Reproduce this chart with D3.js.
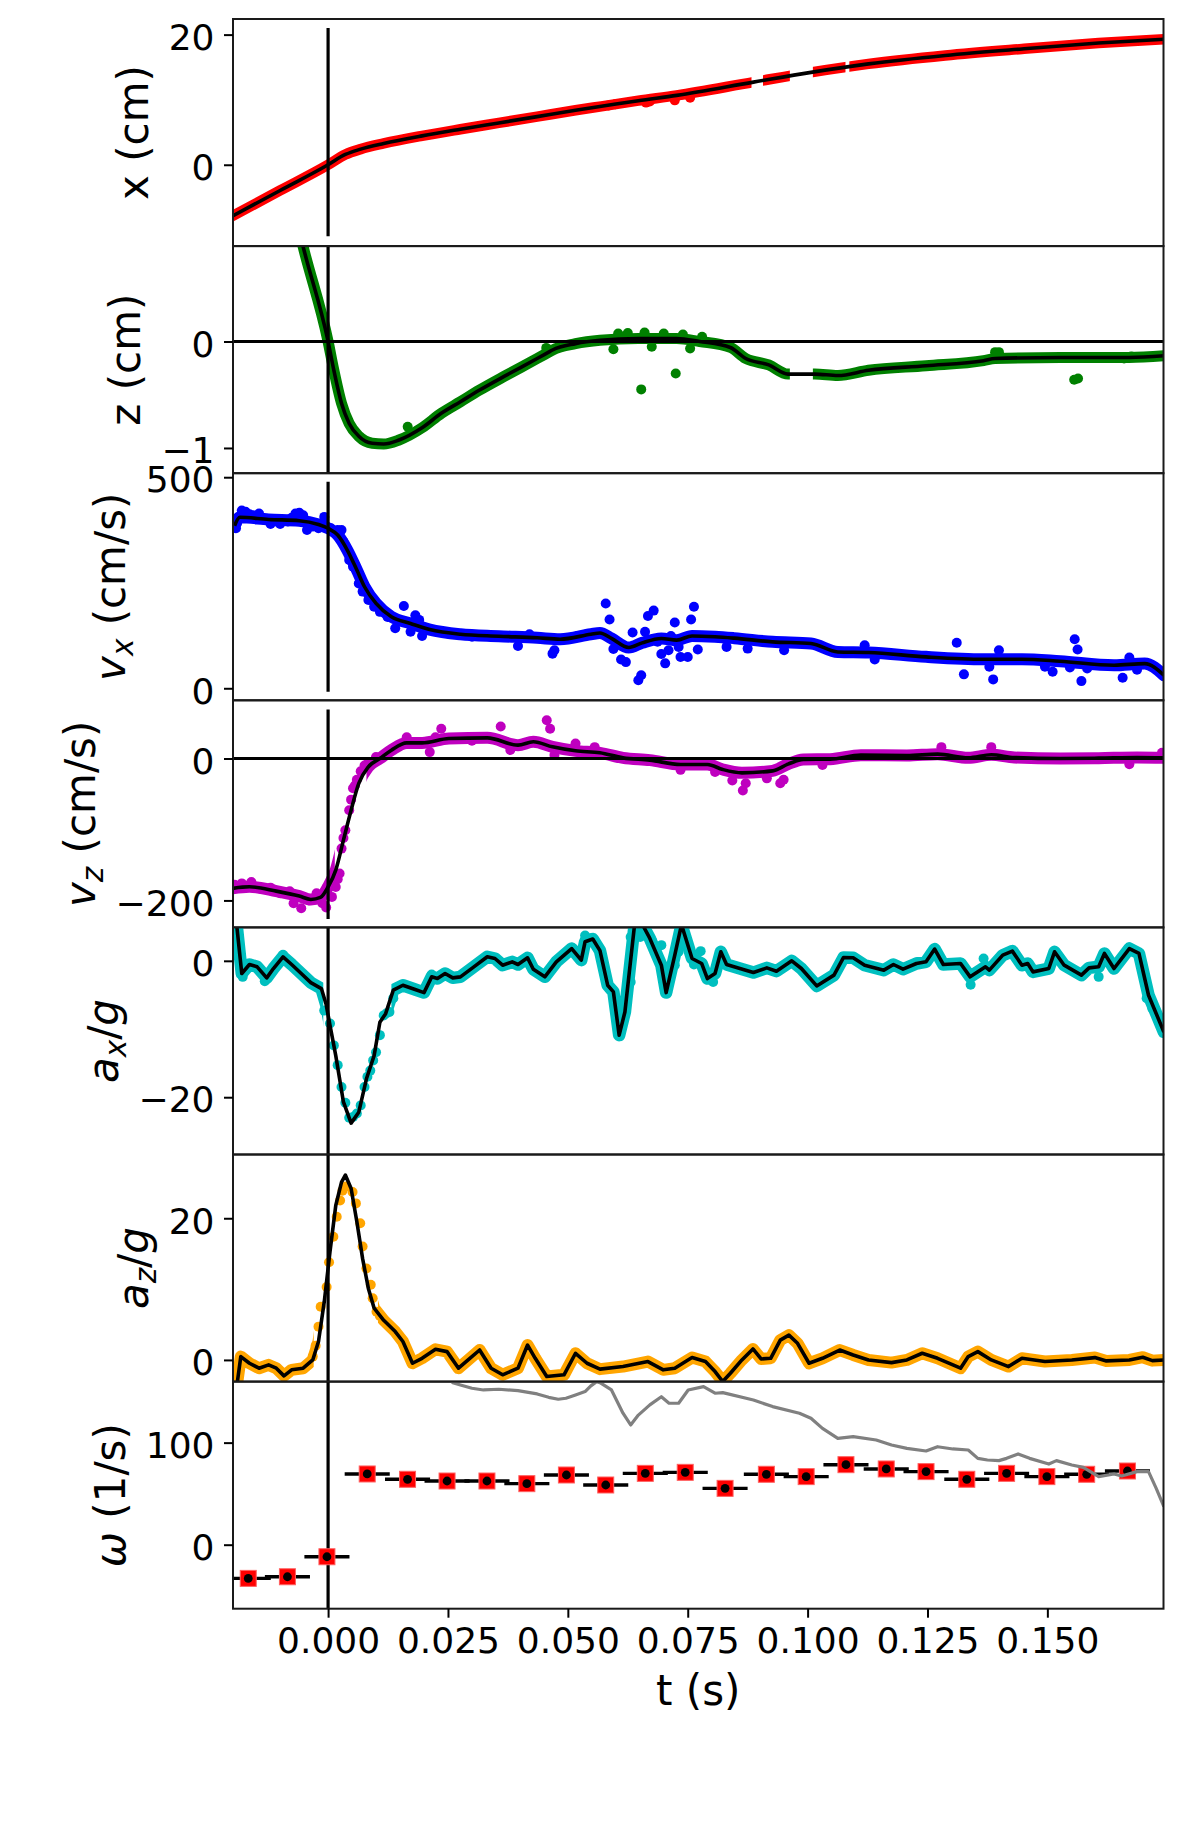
<!DOCTYPE html>
<html>
<head>
<meta charset="utf-8">
<script src="https://cdn.jsdelivr.net/npm/d3@7"></script>
<style>
  body { margin: 0; background: #fff; }
  text { font-family: "DejaVu Sans", sans-serif; white-space: pre; }
</style>
</head>
<body>
<svg id="chart" width="1196" height="1837"></svg>
<script>
// ---- data ----
const tLimits = [-0.01983, 0.17422];
const tTicks = [0, 0.025, 0.05, 0.075, 0.1, 0.125, 0.15];

// x (cm)
const xFit = [[-0.0199,-7.86],[-0.010,-3.95],[0,0],[0.0036,1.58],[0.0068,2.4],[0.0116,3.27],[0.0196,4.44],
  [0.0276,5.46],[0.0356,6.43],[0.0436,7.4],[0.0516,8.37],[0.0570,8.98],[0.0647,9.85],[0.0727,10.66],[0.0887,12.7],
  [0.1007,14.2],[0.1127,15.5],[0.1287,16.8],[0.1447,17.8],[0.1607,18.7],[0.1743,19.3]];
const xDots = [[0.0585,9.1],[0.0599,9.3],[0.0663,9.55],[0.0671,9.74],[0.0723,9.9],[0.0755,10.3]];
const xGaps = [[0.0883,0.0907],[0.0963,0.1011],[0.1079,0.1087]];

// z (cm)
const zFit = [[-0.0065,1.13],[-0.0052,0.89],[0,0],[0.0012,-0.27],[0.0028,-0.58],[0.0044,-0.77],[0.0064,-0.89],
  [0.0092,-0.956],[0.0116,-0.963],[0.0148,-0.925],[0.0196,-0.81],[0.0236,-0.675],[0.0276,-0.566],[0.0316,-0.456],
  [0.0372,-0.316],[0.0436,-0.16],[0.0460,-0.10],[0.0468,-0.08],[0.0516,-0.02],[0.0567,0.012],[0.0647,0.028],
  [0.0727,0.028],[0.0775,0.0],[0.0839,-0.056],[0.0871,-0.16],[0.0919,-0.22],[0.0959,-0.306],[0.1015,-0.306],
  [0.1063,-0.32],[0.1127,-0.27],[0.1247,-0.228],[0.1367,-0.18],[0.1391,-0.16],[0.1527,-0.15],[0.1671,-0.15],[0.1743,-0.134]];
const zDots = [[0.0166,-0.80],[0.0455,-0.06],[0.0595,-0.072],[0.0605,0.075],[0.0625,0.08],[0.0653,-0.45],
  [0.0660,0.085],[0.0675,-0.05],[0.0700,0.075],[0.0725,-0.30],[0.0740,0.065],[0.0755,-0.066],[0.0780,0.045],
  [0.1391,-0.10],[0.1399,-0.10],[0.1556,-0.36],[0.1564,-0.347],[0.1660,-0.16],[0.1675,-0.14]];
const zGaps = [[0.0963,0.1011]];

// v_x (cm/s)
const vxFit = [[-0.0195,385],[-0.0184,405],[-0.0124,400],[-0.006,397],[-0.002,388],[0,379],[0.002,363],
  [0.004,327.5],[0.006,280],[0.0076,240.5],[0.010,201],[0.0132,169.3],[0.0172,153.5],[0.0212,139],[0.0276,128],
  [0.0356,123.4],[0.0436,119.5],[0.0484,116.3],[0.0548,128],[0.0567,131],[0.0591,118],[0.0627,96.5],
  [0.0655,107.6],[0.0695,118],[0.0727,114],[0.0759,124],[0.0807,122],[0.0847,118.7],[0.0927,110],[0.1007,106],
  [0.1063,86],[0.1127,84.7],[0.1247,74.4],[0.1367,68.8],[0.1447,68.8],[0.1527,64],[0.1639,54.6],[0.1703,58.5],[0.1743,30.9]];
const vxDots = [[-0.0192,379],[-0.0190,391],[-0.0180,421],[-0.0172,418],[-0.0164,412],[-0.0156,410],
  [-0.0144,414],[-0.0132,399],[-0.0120,389],[-0.0108,395],[-0.0100,389],[-0.0084,395],[-0.0076,404],
  [-0.0068,414],[-0.0060,416],[-0.0052,410],[-0.0044,375],[-0.0032,383],[-0.0020,379],[-0.0008,406],
  [0.0006,379],[0.0020,375],[0.0028,375],[0.0032,347],[0.0044,304],[0.0052,288],[0.0064,248],[0.0072,229],
  [0.0084,209],[0.0096,193],[0.0108,181],[0.0124,169],[0.0140,142],[0.0158,195],[0.0172,134],[0.0182,173],
  [0.0190,162],[0.0196,124],[0.0250,130],[0.0300,122],[0.0396,100],[0.0420,128],[0.0468,82],[0.0472,90],
  [0.0520,124],[0.0579,201],[0.0587,163],[0.0595,93],[0.0611,68],[0.0621,62],[0.0635,132],[0.0647,19],
  [0.0653,31],[0.0661,134],[0.0667,171],[0.0679,184],[0.0687,110],[0.0695,81],[0.0703,59],[0.0710,90],
  [0.0715,124],[0.0723,156],[0.0731,98],[0.0735,74],[0.0750,74],[0.0757,163],[0.0763,193],[0.0771,92],
  [0.0831,98],[0.0875,94],[0.0951,90],[0.1119,102],[0.1140,68],[0.1311,108],[0.1326,33],[0.1379,51],
  [0.1387,21],[0.1399,90],[0.1495,51],[0.1511,39],[0.1547,49],[0.1557,116],[0.1563,92],[0.1571,17],
  [0.1583,47],[0.1657,25],[0.1671,73],[0.1687,44]];

// v_z (cm/s)
const vzFit = [[-0.0199,-183],[-0.0164,-180.8],[-0.0108,-186.9],[-0.006,-193.9],[-0.0036,-198.6],
  [-0.0016,-195.8],[0,-180.8],[0.0016,-157.3],[0.0032,-115],[0.0048,-72.8],[0.0064,-35.2],[0.0084,-11.7],
  [0.0108,0],[0.0132,11.7],[0.0164,22],[0.0196,22],[0.0252,28.2],[0.0332,29.1],[0.0396,18.8],[0.0428,23.5],
  [0.0468,16.4],[0.0516,10.8],[0.0567,8],[0.0615,0.9],[0.0671,-2.3],[0.0735,-8.5],[0.0791,-8.5],[0.0823,-15.5],
  [0.0863,-20.2],[0.0927,-17.4],[0.0959,-8],[0.0991,-1.4],[0.1047,-0.9],[0.1111,4.7],[0.1207,4.2],[0.1271,6.1],
  [0.1335,0.9],[0.1383,5.2],[0.1431,1.4],[0.1527,0],[0.1607,0.5],[0.1687,1.4],[0.1743,0.9]];
const vzDots = [[-0.0195,-178],[-0.0180,-176],[-0.0160,-174],[-0.0140,-184],[-0.0120,-182],[-0.0100,-190],
  [-0.0080,-187],[-0.0072,-204],[-0.0056,-211],[-0.0040,-200],[-0.0024,-190],[-0.0012,-204],[-0.0004,-210],
  [0.0008,-195],[0.0016,-181],[0.0020,-170],[0.0024,-162],[0.0028,-127],[0.0032,-112],[0.0036,-101],
  [0.0044,-73],[0.0048,-58],[0.0052,-42],[0.0056,-38],[0.0060,-30],[0.0068,-18],[0.0076,-10],
  [0.0084,-5],[0.0100,2],[0.0164,30],[0.0212,9],[0.0224,30],[0.0236,42],[0.0300,25],[0.0360,45],[0.0380,12],
  [0.0456,54],[0.0463,42],[0.0472,5],[0.0516,21],[0.0556,16],[0.0735,-16],[0.0807,-19],[0.0843,-31],
  [0.0865,-45],[0.0871,-35],[0.0915,-28],[0.0943,-35],[0.0950,-30],[0.1031,-9],[0.1279,16],[0.1383,16],
  [0.1671,-8],[0.1739,8]];
const vzGaps = [[0.0014, 0.0080]];

// a_x / g
const axFit = [[-0.0191,5.5],[-0.0180,-1.86],[-0.0164,-0.54],[-0.0148,-0.88],[-0.0128,-2.5],[-0.0114,-1.13],
  [-0.0094,0.59],[-0.0076,-0.54],[-0.0056,-1.86],[-0.0036,-3.19],[-0.0014,-4.07],[-0.0004,-6.42],[0.0004,-9.46],
  [0.0016,-13.9],[0.0032,-20.7],[0.0048,-23.8],[0.0064,-22.2],[0.0080,-17.3],[0.0096,-13.9],[0.0108,-9.0],
  [0.0120,-7.75],[0.0136,-4.3],[0.0156,-3.58],[0.0180,-4.17],[0.0200,-4.66],[0.0216,-2.35],[0.0228,-2.6],
  [0.0244,-1.86],[0.0260,-2.5],[0.0276,-2.35],[0.0304,-0.88],[0.0332,0.59],[0.0348,0.34],[0.0364,-0.64],
  [0.0384,-0.15],[0.0396,-0.54],[0.0416,0.44],[0.0428,-1.23],[0.0452,-2.35],[0.0476,-0.15],[0.0508,1.8],
  [0.0528,0.1],[0.0536,2.8],[0.0552,3.2],[0.0567,1.5],[0.0583,-3.58],[0.0595,-4.56],[0.0607,-10.9],
  [0.0619,-7.5],[0.0639,5.2],[0.0655,5.4],[0.0671,3.28],[0.0695,-0.64],[0.0705,-4.66],[0.0723,0.83],
  [0.0737,5.3],[0.0759,0.34],[0.0779,-0.39],[0.0791,-2.6],[0.0807,-1.86],[0.0819,1.32],[0.0831,-0.54],
  [0.0871,-1.37],[0.0887,-1.72],[0.0915,-1.03],[0.0935,-1.52],[0.0967,0],[0.0987,-1.13],[0.1019,-3.68],
  [0.1055,-2.1],[0.1075,0.49],[0.1095,0.44],[0.1119,-0.64],[0.1159,-1.37],[0.1179,-0.54],[0.1199,-1.23],
  [0.1227,-0.39],[0.1247,-0.15],[0.1265,1.72],[0.1283,-0.54],[0.1319,-0.39],[0.1339,-2.35],[0.1371,-0.88],
  [0.1379,-1.37],[0.1407,0.83],[0.1427,1.42],[0.1447,-0.64],[0.1459,-0.39],[0.1470,-1.62],[0.1503,-1.13],
  [0.1515,1.32],[0.1535,-0.64],[0.1571,-2.1],[0.1587,-1.03],[0.1607,-0.88],[0.1619,1.08],[0.1639,-1.13],
  [0.1671,1.8],[0.1691,1.08],[0.1711,-5.05],[0.1743,-10.44]];
const axDots = [[-0.0178,-2.35],[-0.0132,-3.0],[-0.0094,0.9],[-0.0008,-7.3],[0.0004,-9.2],[0.0012,-12.4],
  [0.0020,-15.3],[0.0028,-18.5],[0.0036,-20.8],[0.0044,-23.0],[0.0052,-22.9],[0.0060,-22.4],[0.0068,-21.2],
  [0.0076,-18.5],[0.0082,-17.0],[0.0088,-16.1],[0.0094,-14.6],[0.0100,-13.4],[0.0108,-10.9],[0.0116,-8.0],
  [0.0122,-7.7],[0.0128,-7.5],[0.0136,-5.5],[0.0216,-2.0],[0.0536,3.7],
  [0.0603,-8.0],[0.0619,-6.1],[0.0631,-3.1],[0.0631,3.5],[0.0651,3.5],[0.0675,3.0],[0.0695,2.3],[0.0707,-4.66],
  [0.0711,-1.13],[0.0723,-0.64],[0.0731,1.32],[0.0763,-0.54],[0.0777,1.42],[0.0803,-3.1],[0.1340,-3.5],
  [0.1367,0.34],[0.1607,-2.35],[0.1707,-5.5],[0.1719,-7.0]];
const axGaps = [[-0.0010, 0.0132]];

// a_z / g
const azFit = [[-0.0190,-3.5],[-0.0182,0.47],[-0.0164,-0.47],[-0.0144,-1.17],[-0.0124,-0.7],[-0.0108,-1.17],
  [-0.0092,-2.25],[-0.0076,-1.4],[-0.0052,-1.17],[-0.0032,0],[-0.0020,2.6],[-0.0008,8.2],[0.0004,15.3],
  [0.0016,21.8],[0.0028,25.1],[0.0036,26.1],[0.0048,24.2],[0.0060,19.5],[0.0072,14.3],[0.0084,10.1],
  [0.0096,7.3],[0.0116,5.6],[0.0140,4.0],[0.0156,2.6],[0.0176,-0.47],[0.0196,0.23],[0.0224,1.5],[0.0248,1.17],
  [0.0272,-1.17],[0.0292,0],[0.0316,1.4],[0.0340,-1.17],[0.0364,-2.1],[0.0396,-1.17],[0.0416,2.1],[0.0432,0.23],
  [0.0456,-2.35],[0.0492,-2.1],[0.0516,0.94],[0.0540,-0.47],[0.0567,-1.3],[0.0615,-0.94],[0.0667,-0.23],
  [0.0699,-1.4],[0.0723,-1.17],[0.0759,0.33],[0.0787,-0.23],[0.0807,-1.64],[0.0823,-3.05],[0.0839,-1.88],
  [0.0863,0],[0.0886,1.55],[0.0903,0.14],[0.0923,0.23],[0.0943,2.8],[0.0961,3.5],[0.0979,2.35],[0.1003,-0.47],
  [0.1031,0.23],[0.1067,1.4],[0.1095,0.7],[0.1127,0],[0.1175,-0.38],[0.1207,0],[0.1239,0.94],[0.1271,0.23],
  [0.1319,-1.17],[0.1335,0.47],[0.1355,1.17],[0.1383,0],[0.1419,-0.94],[0.1447,0.23],[0.1495,-0.23],
  [0.1551,0],[0.1599,0.33],[0.1623,-0.14],[0.1671,0],[0.1699,0.38],[0.1719,-0.1],[0.1743,0]];
const azDots = [[-0.0189,-3.0],[-0.0032,0.47],[-0.0026,2.0],[-0.0020,4.7],[-0.00155,7.5],[-0.0003,10.3],
  [0.0002,13.8],[0.0011,17.4],[0.0018,20.2],[0.0025,22.5],[0.0030,23.9],[0.0037,24.5],[0.0051,23.7],
  [0.0058,22.1],[0.0067,19.3],[0.0072,16.0],[0.0080,12.9],[0.0089,10.6],[0.0093,8.7],[0.0101,6.8],
  [0.0108,6.2],[0.0460,-2.1],[0.0823,-3.0]];
const azGaps = [[-0.0030, 0.0104]];

// omega (1/s): binned values with time error bars, and a second estimate (grey line)
const omegaT = [-0.01665,-0.00848,-0.00024,0.00816,0.01657,0.02481,0.03313,0.04145,0.0497,0.0579,0.06615,
  0.07448,0.08279,0.0914,0.0997,0.108,0.1164,0.1247,0.1332,0.1415,0.1499,0.1582,0.1667];
const omegaV = [-33.0,-31.4,-11.8,69.3,64.1,62.4,62.4,59.8,68.3,58.5,69.9,70.9,55.2,69.0,66.7,78.4,74.2,
  71.6,64.1,69.9,66.7,69.0,72.2];
const omegaDt = 0.0047;
const omegaLine = [[0.0255,163],[0.026,158.8],[0.0276,156.5],[0.030,153.3],[0.0324,151.6],[0.0356,152.3],
  [0.0396,151],[0.0436,147.7],[0.046,144.4],[0.048,142.5],[0.0496,143.5],[0.0516,146.7],[0.0536,150],
  [0.0548,155.6],[0.0560,159.8],[0.0567,158.8],[0.0591,151.6],[0.0615,128.8],[0.0631,117.3],[0.0647,127],
  [0.0671,137],[0.0695,145],[0.0711,138.6],[0.0731,138.6],[0.0751,151.6],[0.0783,154.9],[0.0807,148.4],
  [0.0823,149],[0.0887,141.8],[0.0927,135.3],[0.0983,128.8],[0.1007,123.9],[0.1031,114],[0.1063,104.2],
  [0.1095,105.9],[0.1143,102.6],[0.1175,97.7],[0.1207,94.4],[0.1247,91.8],[0.1271,96],[0.1303,93.8],
  [0.1335,92.8],[0.1355,84.6],[0.1375,83],[0.1399,82.4],[0.1415,84.6],[0.1439,88.9],[0.1463,84.6],
  [0.1503,79],[0.1519,82.4],[0.1551,78.1],[0.1575,75.8],[0.1607,66.7],[0.1639,69.3],[0.1655,67.3],
  [0.1687,71.6],[0.1711,71.6],[0.1727,55.2],[0.1743,37.3]];

// ---- panel setup ----
const panels = [
  { label: [['x (cm)', 'n']], domain: [-12.5, 22.4], ticks: [0, 20], color: '#ff0000',
    fit: xFit, dots: xDots, gaps: xGaps, vline: [-11, 21], smooth: true, band: 10.5 },
  { label: [['z (cm)', 'n']], domain: [-1.237, 0.896], ticks: [-1, 0], color: '#008000',
    fit: zFit, dots: zDots, gaps: zGaps, hline: 0, smooth: true, band: 11 },
  { label: [['v', 'i'], ['x', 'sub'], [' (cm/s)', 'n']], domain: [-28.5, 509.5], ticks: [0, 500],
    color: '#0000ff', fit: vxFit, dots: vxDots, gaps: [], vline: [-8, 489], smooth: true, band: 12 },
  { label: [['v', 'i'], ['z', 'sub'], [' (cm/s)', 'n']], domain: [-238, 82], ticks: [-200, 0],
    color: '#bf00bf', fit: vzFit, dots: vzDots, gaps: vzGaps, vline: [-226, 69], hline: 0, smooth: true, band: 12 },
  { label: [['a', 'i'], ['x', 'sub'], ['/', 'n'], ['g', 'i']], domain: [-28.4, 4.9], ticks: [-20, 0],
    color: '#00bfbf', fit: axFit, dots: axDots, gaps: axGaps, band: 12.5 },
  { label: [['a', 'i'], ['z', 'sub'], ['/', 'n'], ['g', 'i']], domain: [-3.06, 29.0], ticks: [0, 20],
    color: '#ffa500', fit: azFit, dots: azDots, gaps: azGaps, band: 12 },
  { label: [['ω', 'i'], [' (1/s)', 'n']], domain: [-62.7, 159.8], ticks: [0, 100], omega: true }
];

const L = 233, R = 1163.5, plotTop = 19, panelH = 227.1;
const tickFont = 36, labelFont = 42;

const svg = d3.select('#chart');
const defs = svg.append('defs');

const x = d3.scaleLinear().domain(tLimits).range([L, R]);

panels.forEach((p, i) => {
  const top = plotTop + i * panelH;
  const bottom = top + panelH;
  const y = d3.scaleLinear().domain(p.domain).range([bottom, top]);
  const line = d3.line().x(d => x(d[0])).y(d => y(d[1]));
  const fitLine = d3.line().x(d => x(d[0])).y(d => y(d[1]))
    .curve(p.smooth ? d3.curveMonotoneX : d3.curveLinear);

  defs.append('clipPath').attr('id', `clip${i}`)
    .append('rect').attr('x', L).attr('y', top).attr('width', R - L).attr('height', panelH);
  const g = svg.append('g').attr('clip-path', `url(#clip${i})`);

  if (!p.omega) {
    // dots band: thick stroke along the measured points, broken where the samples are sparse
    const edges = [tLimits[0], ...p.gaps.flat(), tLimits[1]];
    const bandClip = defs.append('clipPath').attr('id', `band${i}`);
    for (let k = 0; k < edges.length; k += 2) {
      bandClip.append('rect')
        .attr('x', x(edges[k])).attr('y', top)
        .attr('width', x(edges[k + 1]) - x(edges[k])).attr('height', panelH);
    }
    g.append('path').datum(p.fit)
      .attr('clip-path', `url(#band${i})`)
      .attr('d', fitLine)
      .attr('fill', 'none').attr('stroke', p.color)
      .attr('stroke-width', p.band).attr('stroke-linejoin', 'round').attr('stroke-linecap', 'round');

    g.selectAll('circle.dot').data(p.dots).join('circle')
      .attr('class', 'dot')
      .attr('cx', d => x(d[0])).attr('cy', d => y(d[1]))
      .attr('r', 5).attr('fill', p.color);
  }

  if (p.hline !== undefined) {
    g.append('line').attr('x1', L).attr('x2', R).attr('y1', y(p.hline)).attr('y2', y(p.hline))
      .attr('stroke', '#000').attr('stroke-width', 3.2);
  }
  const vl = p.vline || p.domain;
  g.append('line').attr('x1', x(0)).attr('x2', x(0)).attr('y1', y(vl[0])).attr('y2', y(vl[1]))
    .attr('stroke', '#000').attr('stroke-width', 3.2);

  if (!p.omega) {
    g.append('path').datum(p.fit)
      .attr('d', fitLine)
      .attr('fill', 'none').attr('stroke', '#000')
      .attr('stroke-width', 3.6).attr('stroke-linejoin', 'round');
  } else {
    const pts = omegaT.map((t, k) => [t, omegaV[k]]);
    g.selectAll('line.err').data(pts).join('line')
      .attr('class', 'err')
      .attr('x1', d => x(d[0] - omegaDt)).attr('x2', d => x(d[0] + omegaDt))
      .attr('y1', d => y(d[1])).attr('y2', d => y(d[1]))
      .attr('stroke', '#000').attr('stroke-width', 3.4);
    g.selectAll('rect.sq').data(pts).join('rect')
      .attr('class', 'sq')
      .attr('x', d => x(d[0]) - 8).attr('y', d => y(d[1]) - 8)
      .attr('width', 16).attr('height', 16)
      .attr('fill', '#ff0000').attr('stroke', '#ff6060').attr('stroke-width', 1);
    g.selectAll('circle.pt').data(pts).join('circle')
      .attr('class', 'pt')
      .attr('cx', d => x(d[0])).attr('cy', d => y(d[1]))
      .attr('r', 4.4).attr('fill', '#000');
    g.append('path').datum(omegaLine)
      .attr('d', line)
      .attr('fill', 'none').attr('stroke', '#808080')
      .attr('stroke-width', 3.2).attr('stroke-linejoin', 'round');
  }

  // frame
  svg.append('rect').attr('x', L).attr('y', top).attr('width', R - L).attr('height', panelH)
    .attr('fill', 'none').attr('stroke', '#1a1a1a').attr('stroke-width', 2);

  // y axis
  const ax = svg.append('g').attr('transform', `translate(${L},0)`)
    .call(d3.axisLeft(y).tickValues(p.ticks).tickFormat(d3.format('d'))
      .tickSize(9).tickPadding(9.5).tickSizeOuter(0));
  ax.select('.domain').remove();
  ax.selectAll('.tick line').attr('stroke', '#000').attr('stroke-width', 2);
  ax.selectAll('.tick text').attr('font-size', tickFont).attr('fill', '#000')
    .attr('font-family', '"DejaVu Sans", sans-serif').attr('dy', '0.41em');

  const maxLen = d3.max(ax.selectAll('.tick text').nodes(), n => n.getComputedTextLength());
  const bx = L - 9 - 9.5 - maxLen - 21;
  const lab = svg.append('text')
    .attr('transform', `translate(${bx},${top + panelH / 2}) rotate(-90)`)
    .attr('text-anchor', 'middle').attr('font-size', labelFont).attr('fill', '#000');
  let shift = 0;
  p.label.forEach(([s, kind]) => {
    const ts = lab.append('tspan').text(s);
    if (kind === 'i' || kind === 'sub') ts.attr('font-style', 'italic');
    if (kind === 'sub') {
      ts.attr('font-size', labelFont * 0.7).attr('dy', 8 - shift);
      shift = 8;
    } else if (shift) {
      ts.attr('dy', -shift);
      shift = 0;
    }
  });

  if (i === panels.length - 1) {
    const bx2 = svg.append('g').attr('transform', `translate(0,${bottom})`)
      .call(d3.axisBottom(x).tickValues(tTicks).tickFormat(d3.format('.3f'))
        .tickSize(9).tickPadding(10).tickSizeOuter(0));
    bx2.select('.domain').remove();
    bx2.selectAll('.tick line').attr('stroke', '#000').attr('stroke-width', 2);
    bx2.selectAll('.tick text').attr('font-size', tickFont).attr('fill', '#000')
      .attr('font-family', '"DejaVu Sans", sans-serif');
    svg.append('text').attr('x', (L + R) / 2).attr('y', 1705)
      .attr('text-anchor', 'middle').attr('font-size', labelFont).attr('fill', '#000')
      .text('t (s)');
  }
});
</script>
</body>
</html>
